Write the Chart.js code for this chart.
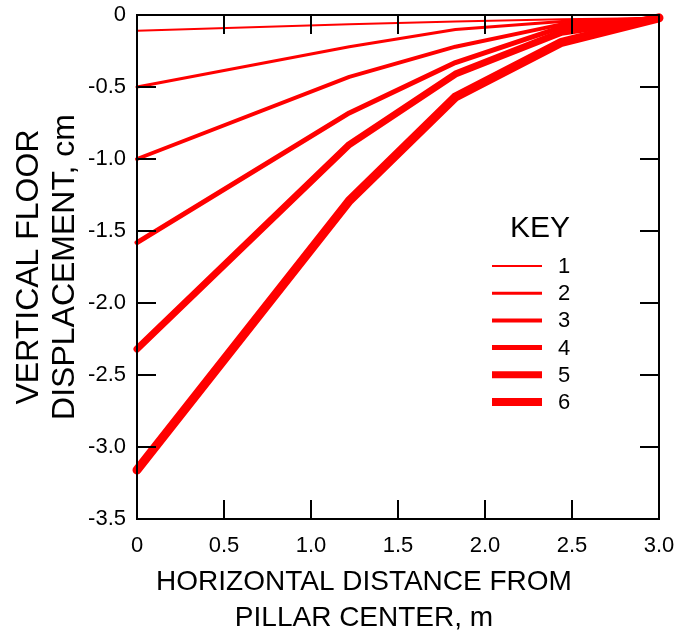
<!DOCTYPE html>
<html>
<head>
<meta charset="utf-8">
<title>Vertical floor displacement</title>
<script src="https://cdn.jsdelivr.net/npm/chart.js@4/dist/chart.umd.min.js"></script>
<style>
  html, body { margin: 0; padding: 0; background: #fff; }
  #wrap { width: 692px; height: 634px; position: relative; }
</style>
</head>
<body>
<div id="wrap"><canvas id="chart"></canvas></div>
<script>
// Horizontal distance from pillar center, m
const distances = [0, 1.22, 1.83, 2.44, 3.0];

// Vertical floor displacement, cm, for each curve of the key
const curve1 = [-0.11, -0.065, -0.045, -0.03, -0.02];
const curve2 = [-0.50, -0.22, -0.10, -0.045, -0.02];
const curve3 = [-1.00, -0.43, -0.22, -0.065, -0.02];
const curve4 = [-1.58, -0.68, -0.33, -0.085, -0.02];
const curve5 = [-2.32, -0.90, -0.41, -0.12, -0.02];
const curve6 = [-3.16, -1.29, -0.57, -0.19, -0.02];

const keyLabels = ['1', '2', '3', '4', '5', '6'];
const curves = [curve1, curve2, curve3, curve4, curve5, curve6];
const lineWidths = [2, 3, 4, 5, 7, 9];

const xTicks = [0, 0.5, 1.0, 1.5, 2.0, 2.5, 3.0];
const yTicks = [0, -0.5, -1.0, -1.5, -2.0, -2.5, -3.0, -3.5];

const FONT = "'Liberation Sans', Arial, Helvetica, sans-serif";
const RED = '#ff0000';

const datasets = curves.map((vals, i) => ({
  label: keyLabels[i],
  data: distances.map((d, j) => ({ x: d, y: vals[j] })),
  borderColor: RED,
  backgroundColor: RED,
  borderWidth: lineWidths[i],
  borderCapStyle: 'round',
  borderJoinStyle: 'round',
  pointRadius: 0,
  tension: 0,
  fill: false,
  clip: false
}));

const fmt = v => (v === 0 ? '0' : Number(v).toFixed(1));

// Frame around the plot with inward tick marks on all four sides
const framePlugin = {
  id: 'frame',
  afterDraw(chart) {
    const { ctx, chartArea: a, scales } = chart;
    const len = 19;
    ctx.save();
    ctx.strokeStyle = '#000';
    ctx.lineWidth = 2;
    ctx.beginPath();
    xTicks.forEach(v => {
      const px = Math.round(scales.x.getPixelForValue(v));
      ctx.moveTo(px, a.bottom); ctx.lineTo(px, a.bottom - len);
      ctx.moveTo(px, a.top); ctx.lineTo(px, a.top + len);
    });
    yTicks.forEach(v => {
      const py = Math.round(scales.y.getPixelForValue(v));
      ctx.moveTo(a.left, py); ctx.lineTo(a.left + len, py);
      ctx.moveTo(a.right, py); ctx.lineTo(a.right - len, py);
    });
    ctx.stroke();
    ctx.strokeRect(a.left, a.top, a.right - a.left, a.bottom - a.top);
    ctx.restore();
  }
};

// Key drawn inside the plot, one sample line per curve
const keyPlugin = {
  id: 'key',
  afterDatasetsDraw(chart) {
    const { ctx, chartArea: a } = chart;
    const x0 = a.left + 355, x1 = a.left + 405, tx = a.left + 421;
    const y0 = 266, step = 27.2;
    ctx.save();
    ctx.fillStyle = '#000';
    ctx.font = '30px ' + FONT;
    ctx.textAlign = 'center';
    ctx.textBaseline = 'middle';
    ctx.fillText('KEY', a.left + 403, 229);
    ctx.font = '22px ' + FONT;
    ctx.textAlign = 'left';
    chart.data.datasets.forEach((ds, i) => {
      const y = y0 + i * step;
      ctx.strokeStyle = ds.borderColor;
      ctx.lineWidth = Math.min(ds.borderWidth, 8);
      ctx.lineCap = 'butt';
      ctx.beginPath();
      ctx.moveTo(x0, y); ctx.lineTo(x1, y);
      ctx.stroke();
      ctx.fillText(ds.label, tx, y + 1);
    });
    ctx.restore();
  }
};

// Two-line title under the horizontal axis
const xTitlePlugin = {
  id: 'xTitle',
  afterDraw(chart) {
    const { ctx, chartArea: a } = chart;
    const cx = a.left + 227;
    ctx.save();
    ctx.fillStyle = '#000';
    ctx.font = '28px ' + FONT;
    ctx.textAlign = 'center';
    ctx.textBaseline = 'middle';
    ctx.fillText('HORIZONTAL DISTANCE FROM', cx, 582);
    ctx.fillText('PILLAR CENTER, m', cx, 618);
    ctx.restore();
  }
};

new Chart(document.getElementById('chart'), {
  type: 'line',
  data: { datasets },
  options: {
    responsive: true,
    maintainAspectRatio: false,
    animation: false,
    events: [],
    layout: { padding: { top: 15, right: 33, left: 0, bottom: 0 } },
    plugins: {
      legend: { display: false },
      tooltip: { enabled: false }
    },
    scales: {
      x: {
        type: 'linear',
        min: 0,
        max: 3.0,
        afterFit(s) { s.height = 115; s.paddingLeft = 0; s.paddingRight = 0; },
        afterBuildTicks(s) { s.ticks = xTicks.map(v => ({ value: v })); },
        grid: { display: false, drawTicks: false },
        border: { display: false },
        ticks: {
          padding: 14,
          color: '#000',
          font: { family: FONT, size: 22 },
          maxRotation: 0,
          callback: v => fmt(v)
        }
      },
      y: {
        type: 'linear',
        min: -3.5,
        max: 0,
        afterFit(s) { s.width = 137; s.paddingTop = 0; s.paddingBottom = 0; },
        afterBuildTicks(s) { s.ticks = yTicks.map(v => ({ value: v })); },
        grid: { display: false, drawTicks: false },
        border: { display: false },
        ticks: {
          padding: 11,
          color: '#000',
          font: { family: FONT, size: 22 },
          callback: v => fmt(v)
        },
        title: {
          display: true,
          text: ['VERTICAL FLOOR', 'DISPLACEMENT, cm'],
          color: '#000',
          font: { family: FONT, size: 32, lineHeight: '36px' },
          padding: { top: 11, bottom: 0 }
        }
      }
    }
  },
  plugins: [framePlugin, keyPlugin, xTitlePlugin]
});
</script>
</body>
</html>
